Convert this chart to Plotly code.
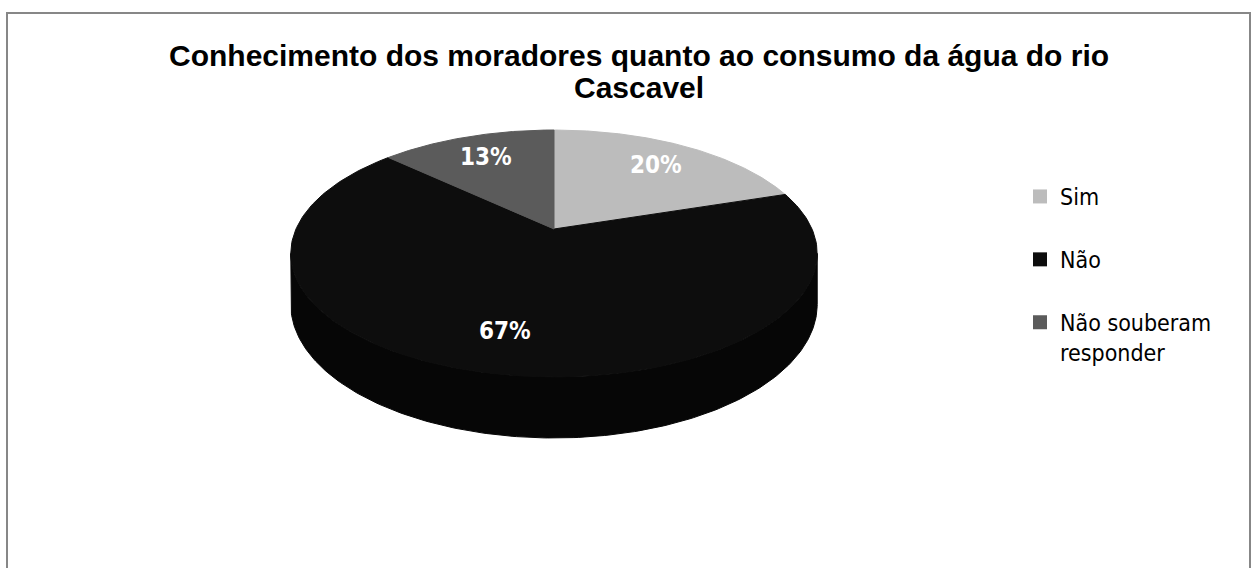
import numpy as np
import plotly.graph_objects as go

# ---- data ----
labels = ["Sim", "Não", "Não souberam<br>responder"]
values = [20, 67, 13]
title_line1 = "Conhecimento dos moradores quanto ao consumo da água do rio"
title_line2 = "Cascavel"

# ---- style ----
top_colors = ["#bcbcbc", "#0d0d0d", "#5b5b5b"]
side_colors = ["#8e8e8e", "#060606", "#404040"]
W, H = 1251, 568

# 3D pie projection parameters (pixel space)
CX, CY = 554, 229      # projected centre of pie top
SX, SY = 258, 118.6    # horizontal / vertical radius factors
K = 0.198              # perspective factor
D0 = 49                # wall depth

def proj(theta, r=1.0, drop=0.0):
    c, s = np.cos(theta), np.sin(theta)
    den = 1 + K * r * c
    return CX + SX * r * s / den, CY - SY * r * c / den + drop / den

total = sum(values)
fracs = [v / total for v in values]
starts = np.concatenate([[0], np.cumsum(fracs)[:-1]]) * 2 * np.pi
ends = np.cumsum(fracs) * 2 * np.pi

fig = go.Figure()

# side walls (front visible arc)
te = np.arccos(-K)
vis_lo, vis_hi = te, 2 * np.pi - te
for a, b, col in zip(starts, ends, side_colors):
    lo, hi = max(a, vis_lo), min(b, vis_hi)
    if lo < hi:
        th = np.linspace(lo, hi, 200)
        xt, yt = proj(th)
        xb, yb = proj(th[::-1], drop=D0)
        fig.add_trace(go.Scatter(
            x=np.concatenate([xt, xb, xt[:1]]), y=np.concatenate([yt, yb, yt[:1]]),
            mode="lines", fill="toself", fillcolor=col, line=dict(color=col, width=1),
            showlegend=False, hoverinfo="skip"))

# top faces
for a, b, col in zip(starts, ends, top_colors):
    th = np.linspace(a, b, 200)
    xa, ya = proj(th)
    fig.add_trace(go.Scatter(
        x=np.concatenate([[CX], xa, [CX]]), y=np.concatenate([[CY], ya, [CY]]),
        mode="lines", fill="toself", fillcolor=col, line=dict(color=col, width=1),
        showlegend=False, hoverinfo="skip"))

# legend entries
for i, (lab, col) in enumerate(zip(labels, top_colors)):
    fig.add_trace(go.Scatter(
        x=[None], y=[None], mode="markers", name=lab, legendgroup=str(i),
        marker=dict(symbol="square", size=14, color=col)))

# percentage labels
for a, b, v in zip(starts, ends, values):
    lx, ly = proj((a + b) / 2, r=0.75)
    fig.add_annotation(x=lx, y=ly, xref="x", yref="y", showarrow=False,
                       text=f"{round(100 * v / total)}%",
                       font=dict(family="DejaVu Sans Condensed, DejaVu Sans", size=24,
                                 color="white", weight="bold"))

# title
fig.add_annotation(x=639, y=55, xref="x", yref="y", showarrow=False, text=title_line1,
                   font=dict(family="Liberation Sans, Arial", size=30, color="black", weight="bold"))
fig.add_annotation(x=639, y=87, xref="x", yref="y", showarrow=False, text=title_line2,
                   font=dict(family="Liberation Sans, Arial", size=30, color="black", weight="bold"))

# chart border
fig.add_shape(type="rect", xref="x", yref="y", x0=7, x1=1250, y0=13, y1=640,
              line=dict(color="#878787", width=2), layer="below")

fig.update_layout(
    width=W, height=H, margin=dict(l=0, r=0, t=0, b=0),
    paper_bgcolor="white", plot_bgcolor="white",
    xaxis=dict(range=[0, W], visible=False, fixedrange=True),
    yaxis=dict(range=[H, 0], visible=False, fixedrange=True),
    legend=dict(x=1020 / W, y=1 - 175 / H, xanchor="left", yanchor="top",
                font=dict(family="DejaVu Sans Condensed, DejaVu Sans", size=23, color="black"),
                tracegroupgap=30, valign="top", bgcolor="rgba(0,0,0,0)"),
    showlegend=True,
)

fig.write_html("out.html")
